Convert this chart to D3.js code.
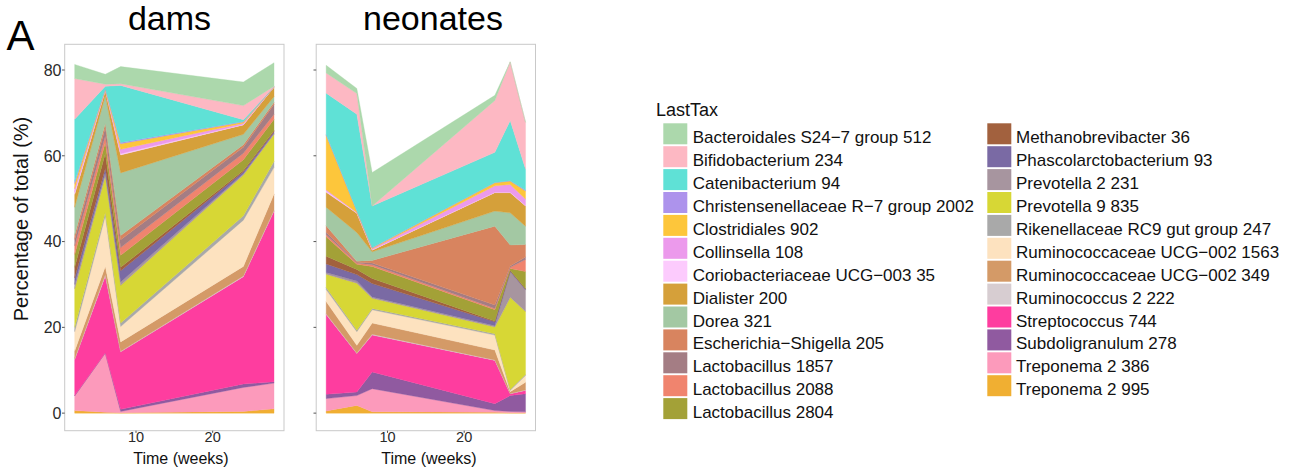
<!DOCTYPE html>
<html>
<head>
<meta charset="utf-8">
<script src="https://cdn.jsdelivr.net/npm/d3@7"></script>
<style>
  body { margin: 0; background: #fff; }
  svg { display: block; font-family: "Liberation Sans", Arial, Helvetica, sans-serif; }
</style>
</head>
<body>
<svg id="chart" width="1311" height="473"></svg>
<script>
// Taxa in legend order; the first one sits on top of each stack.
const taxa = [
  "Bacteroidales S24\u22127 group 512",
  "Bifidobacterium 234",
  "Catenibacterium 94",
  "Christensenellaceae R\u22127 group 2002",
  "Clostridiales 902",
  "Collinsella 108",
  "Coriobacteriaceae UCG\u2212003 35",
  "Dialister 200",
  "Dorea 321",
  "Escherichia\u2212Shigella 205",
  "Lactobacillus 1857",
  "Lactobacillus 2088",
  "Lactobacillus 2804",
  "Methanobrevibacter 36",
  "Phascolarctobacterium 93",
  "Prevotella 2 231",
  "Prevotella 9 835",
  "Rikenellaceae RC9 gut group 247",
  "Ruminococcaceae UCG\u2212002 1563",
  "Ruminococcaceae UCG\u2212002 349",
  "Ruminococcus 2 222",
  "Streptococcus 744",
  "Subdoligranulum 278",
  "Treponema 2 386",
  "Treponema 2 995"
];

const taxaColors = [
  "#acd8ac", "#fdb8c3", "#5fe1d6", "#ad93ec", "#fdc63b",
  "#ec9aec", "#fccbfd", "#d5a03a", "#a3c8a3", "#d8845f",
  "#a47d84", "#f0846e", "#a3a137", "#a2613e", "#7a6aa4",
  "#a7959f", "#d7d735", "#a9a9a9", "#fde2bf", "#d49a67",
  "#d7cdd1", "#fe3d9f", "#905aa0", "#fc9abb", "#f0af32"
];

const damsWeeks = [2, 6, 8, 24, 28];
const neonateWeeks = [2, 6, 8, 24, 26, 28];

// Percentage of total per taxon (rows, legend order) at each sampled week.
const damsShares = [
  [3.3, 2.3, 4.0, 5.5, 5.5],     // Bacteroidales S24-7 group 512
  [9.5, 0.5, 0.4, 3.3, 0.1],     // Bifidobacterium 234
  [14.5, 0.5, 13.3, 0.4, 0.0],   // Catenibacterium 94
  [0.5, 0.1, 0.3, 0.1, 0.0],     // Christensenellaceae R-7 group 2002
  [1.2, 0.2, 1.3, 0.3, 0.05],    // Clostridiales 902
  [0.8, 0.1, 1.0, 0.3, 0.05],    // Collinsella 108
  [0.5, 0.1, 0.3, 0.1, 0.0],     // Coriobacteriaceae UCG-003 35
  [3.0, 1.2, 4.2, 2.2, 2.2],     // Dialister 200
  [6.5, 6.4, 14.6, 2.4, 1.3],    // Dorea 321
  [1.0, 1.0, 1.0, 0.6, 0.5],     // Escherichia-Shigella 205
  [1.5, 2.0, 1.8, 1.4, 2.3],     // Lactobacillus 1857
  [2.0, 1.5, 1.8, 1.5, 1.2],     // Lactobacillus 2088
  [3.0, 2.5, 2.8, 2.5, 2.6],     // Lactobacillus 2804
  [2.5, 3.5, 0.8, 0.3, 0.3],     // Methanobrevibacter 36
  [1.5, 1.0, 2.6, 0.5, 0.3],     // Phascolarctobacterium 93
  [1.0, 0.8, 0.8, 0.3, 0.3],     // Prevotella 2 231
  [9.0, 8.5, 8.8, 9.5, 6.3],     // Prevotella 9 835
  [1.0, 0.8, 0.8, 1.0, 1.4],     // Rikenellaceae RC9 gut group 247
  [4.5, 11.8, 3.6, 10.8, 6.2],   // Ruminococcaceae UCG-002 1563
  [1.8, 1.9, 2.2, 2.2, 3.8],     // Ruminococcaceae UCG-002 349
  [0.2, 0.3, 0.1, 0.2, 0.2],     // Ruminococcus 2 222
  [8.4, 17.9, 13.4, 25.0, 39.8], // Streptococcus 744
  [0.1, 0.1, 0.5, 0.8, 0.3],     // Subdoligranulum 278
  [3.4, 13.8, 0.3, 5.6, 6.0],    // Treponema 2 386
  [0.6, 0.2, 0.1, 0.4, 1.0]      // Treponema 2 995
];

const neonateShares = [
  [1.8, 1.2, 7.8, 1.2, 0.0, 0.0],      // Bacteroidales S24-7 group 512
  [4.7, 4.8, 0.0, 12.1, 13.7, 10.9],   // Bifidobacterium 234
  [9.6, 22.5, 9.7, 7.0, 14.0, 4.9],    // Catenibacterium 94
  [0.2, 0.1, 0.1, 0.1, 0.1, 0.2],      // Christensenellaceae R-7 group 2002
  [12.7, 0.3, 0.2, 0.7, 0.8, 1.9],     // Clostridiales 902
  [0.3, 0.1, 0.2, 1.5, 1.8, 1.5],      // Collinsella 108
  [0.3, 0.1, 0.1, 0.1, 0.1, 0.1],      // Coriobacteriaceae UCG-003 35
  [3.5, 4.5, 0.4, 4.3, 4.7, 4.7],      // Dialister 200
  [4.3, 6.7, 2.0, 3.5, 7.5, 4.3],      // Dorea 321
  [1.5, 0.2, 0.6, 18.4, 4.9, 2.9],     // Escherichia-Shigella 205
  [0.6, 0.2, 0.4, 0.8, 0.3, 0.6],      // Lactobacillus 1857
  [0.5, 0.3, 0.4, 0.3, 0.3, 2.8],      // Lactobacillus 2088
  [4.5, 1.2, 2.8, 2.6, 0.4, 4.0],      // Lactobacillus 2804
  [1.8, 1.2, 1.2, 0.2, 0.1, 0.1],      // Methanobrevibacter 36
  [2.0, 1.5, 3.1, 0.9, 0.2, 0.2],      // Phascolarctobacterium 93
  [0.4, 0.5, 0.3, 0.3, 6.0, 5.0],      // Prevotella 2 231
  [3.1, 11.0, 2.4, 1.6, 21.5, 14.7],   // Prevotella 9 835
  [0.5, 0.3, 0.3, 0.3, 0.2, 0.2],      // Rikenellaceae RC9 gut group 247
  [2.8, 3.2, 3.1, 3.5, 0.3, 1.6],      // Ruminococcaceae UCG-002 1563
  [2.8, 1.8, 2.6, 2.3, 0.4, 1.8],      // Ruminococcaceae UCG-002 349
  [0.2, 0.1, 0.2, 0.1, 0.1, 0.1],      // Ruminococcus 2 222
  [18.6, 9.0, 8.6, 10.1, 0.4, 0.8],    // Streptococcus 744
  [1.0, 0.8, 3.9, 1.6, 3.7, 4.2],      // Subdoligranulum 278
  [2.9, 2.3, 5.4, 0.4, 0.3, 0.2],      // Treponema 2 386
  [0.5, 1.8, 0.3, 0.2, 0.1, 0.1]       // Treponema 2 995
];

const panelTitles = ["dams", "neonates"];
const yTickValues = [0, 20, 40, 60, 80];
const xTickValues = [10, 20];

const svg = d3.select("#chart");
const font = '"Liberation Sans", Arial, Helvetica, sans-serif';

// Panel frame geometry
const panelTop = 44.3, panelBottom = 430.7, panelWidth = 219.3;
const panels = [
  { left: 64.7, title: panelTitles[0], weeks: damsWeeks, shares: damsShares, titleX: 169.5, axisTitleX: 181 },
  { left: 316.2, title: panelTitles[1], weeks: neonateWeeks, shares: neonateShares, titleX: 433, axisTitleX: 429 }
];

// Stack layers from the last taxon (bottom) to the first (top)
const stackKeys = d3.range(taxa.length).reverse();
panels.forEach(p => {
  const rows = p.weeks.map((w, j) => {
    const r = { week: w };
    taxa.forEach((t, i) => { r[i] = p.shares[i][j]; });
    return r;
  });
  p.series = d3.stack().keys(stackKeys).order(d3.stackOrderNone).offset(d3.stackOffsetNone)(rows);
  p.maxTotal = d3.max(rows, r => d3.sum(taxa, (t, i) => r[i]));
});

// Shared scales with 5% padding on both axes
const allWeeks = damsWeeks.concat(neonateWeeks);
const [wMin, wMax] = d3.extent(allWeeks);
const wPad = (wMax - wMin) * 0.05;
const yMax = d3.max(panels, p => p.maxTotal);
const y = d3.scaleLinear().domain([-yMax * 0.05, yMax * 1.05]).range([panelBottom, panelTop]);

const defs = svg.append("defs");
defs.append("clipPath").attr("id", "stripClip")
  .append("rect").attr("x", 0).attr("y", 0).attr("width", 1311).attr("height", 30.6);

panels.forEach((p, pi) => {
  const x = d3.scaleLinear().domain([wMin - wPad, wMax + wPad]).range([p.left, p.left + panelWidth]);

  defs.append("clipPath").attr("id", "panelClip" + pi)
    .append("rect").attr("x", p.left).attr("y", panelTop)
    .attr("width", panelWidth).attr("height", panelBottom - panelTop);

  const g = svg.append("g").attr("clip-path", `url(#panelClip${pi})`);
  g.append("rect").attr("x", p.left).attr("y", panelTop)
    .attr("width", panelWidth).attr("height", panelBottom - panelTop).attr("fill", "#fff");

  const area = d3.area()
    .x(d => x(d.data.week))
    .y0(d => y(d[0]))
    .y1(d => y(d[1]));

  g.selectAll("path.layer").data(p.series).join("path")
    .attr("class", "layer")
    .attr("d", area)
    .attr("fill", d => taxaColors[d.key])
    .attr("stroke", d => taxaColors[d.key])
    .attr("stroke-width", 0.35)
    .attr("stroke-linejoin", "round");

  // Panel border
  svg.append("rect").attr("x", p.left).attr("y", panelTop)
    .attr("width", panelWidth).attr("height", panelBottom - panelTop)
    .attr("fill", "none").attr("stroke", "#c9c9c9").attr("stroke-width", 1);

  // Y ticks
  svg.append("g").selectAll("line").data(yTickValues).join("line")
    .attr("x1", p.left - 2.7).attr("x2", p.left)
    .attr("y1", d => y(d)).attr("y2", d => y(d))
    .attr("stroke", "#555").attr("stroke-width", 1);

  if (pi === 0) {
    svg.append("g").selectAll("text").data(yTickValues).join("text")
      .attr("x", p.left - 3.2).attr("y", d => y(d)).attr("dy", "0.36em")
      .attr("text-anchor", "end")
      .attr("font-size", 16).attr("fill", "#2a2a2a")
      .text(d => d);
  }

  // X ticks
  svg.append("g").selectAll("line").data(xTickValues).join("line")
    .attr("x1", d => x(d)).attr("x2", d => x(d))
    .attr("y1", panelBottom).attr("y2", panelBottom + 2.2)
    .attr("stroke", "#555").attr("stroke-width", 1);

  svg.append("g").selectAll("text").data(xTickValues).join("text")
    .attr("x", d => x(d)).attr("y", 441.8)
    .attr("text-anchor", "middle")
    .attr("font-size", 14.5).attr("fill", "#2a2a2a")
    .text(d => d);

  svg.append("text")
    .attr("x", p.axisTitleX).attr("y", 463.6)
    .attr("text-anchor", "middle").attr("font-size", 16).attr("fill", "#111")
    .text("Time (weeks)");

  svg.append("text")
    .attr("clip-path", "url(#stripClip)")
    .attr("x", p.titleX).attr("y", 29.6)
    .attr("text-anchor", "middle").attr("font-size", 34).attr("fill", "#000")
    .text(p.title);
});

// Figure label and y-axis title
svg.append("text").attr("x", 6.5).attr("y", 49.5)
  .attr("font-size", 42).attr("fill", "#000").text("A");

svg.append("text")
  .attr("transform", "translate(27.6,219) rotate(-90)")
  .attr("text-anchor", "middle").attr("font-size", 20).attr("fill", "#111")
  .text("Percentage of total (%)");

// Legend
const legend = svg.append("g");
legend.append("text").attr("x", 656).attr("y", 115.5)
  .attr("font-size", 18).attr("fill", "#111").text("LastTax");

const perCol = 13;
const colKeyX = [663.3, 987.3];
const colTextX = [692.7, 1016];
const rowPitch = 22.9, keyTop = 123.3;
const items = legend.selectAll("g.item").data(taxa).join("g").attr("class", "item")
  .attr("transform", (d, i) => {
    const c = Math.floor(i / perCol), r = i % perCol;
    return `translate(0,${keyTop + r * rowPitch})`;
  });
items.append("rect")
  .attr("x", (d, i) => colKeyX[Math.floor(i / perCol)])
  .attr("y", 0).attr("width", 24).attr("height", 21)
  .attr("fill", (d, i) => taxaColors[i]);
items.append("text")
  .attr("x", (d, i) => colTextX[Math.floor(i / perCol)])
  .attr("y", 20)
  .attr("font-size", 17).attr("fill", "#111")
  .text(d => d);
</script>
</body>
</html>
